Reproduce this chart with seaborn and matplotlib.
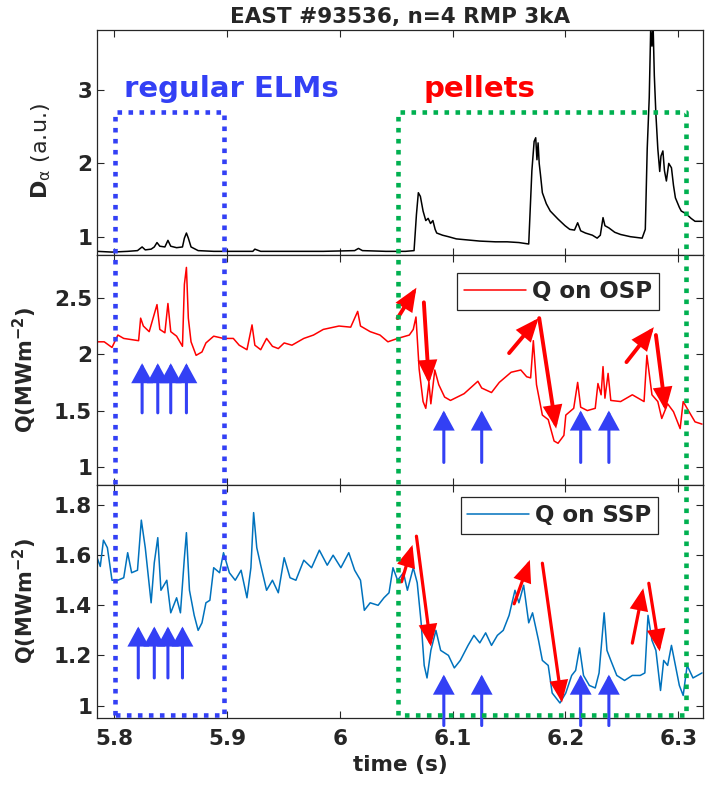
import matplotlib
matplotlib.use("Agg")
import matplotlib.pyplot as plt
import seaborn as sns
from matplotlib.lines import Line2D
from matplotlib.ticker import FuncFormatter

# ---------------- data ----------------
da_t = [5.7846, 5.7978, 5.8117, 5.8204, 5.8245, 5.8273, 5.8325, 5.8353, 5.8377, 5.8402,
        5.8447, 5.8474, 5.8499, 5.8551, 5.8603, 5.8620, 5.8638, 5.8655, 5.8679, 5.8742,
        5.8880, 5.9054, 5.9227, 5.9245, 5.9297, 5.9505, 5.9852, 6.0130, 6.0164, 6.0199,
        6.0407, 6.0581, 6.0657, 6.0678, 6.0695, 6.0713, 6.0737, 6.0761, 6.0782, 6.0803,
        6.0824, 6.0844, 6.0858, 6.0910, 6.0962, 6.1032, 6.1101, 6.1171, 6.1240, 6.1379,
        6.1483, 6.1587, 6.1674, 6.1702, 6.1722, 6.1736, 6.1747, 6.1757, 6.1767, 6.1778,
        6.1795, 6.1830, 6.1865, 6.1934, 6.1996, 6.2038, 6.2080, 6.2108, 6.2135, 6.2177,
        6.2239, 6.2281, 6.2309, 6.2333, 6.2350, 6.2385, 6.2437, 6.2489, 6.2576, 6.2680,
        6.2708, 6.2725, 6.2743, 6.2756, 6.2767, 6.2777, 6.2788, 6.2802, 6.2819, 6.2836,
        6.2847, 6.2864, 6.2878, 6.2895, 6.2916, 6.2940, 6.2958, 6.2975, 6.3010, 6.3027,
        6.3062, 6.3079, 6.3114, 6.3149, 6.3211]
da_v = [0.80, 0.79, 0.80, 0.81, 0.86, 0.82, 0.83, 0.86, 0.92, 0.87,
        0.86, 0.95, 0.87, 0.85, 0.86, 0.98, 1.05, 0.98, 0.86, 0.81,
        0.80, 0.80, 0.80, 0.83, 0.80, 0.80, 0.80, 0.81, 0.84, 0.81,
        0.80, 0.80, 0.81, 1.30, 1.60, 1.55, 1.35, 1.22, 1.25, 1.18,
        1.22, 1.10, 1.05, 1.02, 1.00, 0.97, 0.96, 0.95, 0.94, 0.93,
        0.93, 0.92, 0.90, 1.90, 2.30, 2.35, 2.05, 2.28, 2.00, 1.85,
        1.60, 1.45, 1.35, 1.24, 1.15, 1.10, 1.09, 1.19, 1.08, 1.05,
        1.02, 0.98, 1.02, 1.26, 1.15, 1.12, 1.06, 1.03, 1.00, 0.98,
        1.10, 2.20, 2.90, 3.85, 3.60, 3.90, 3.20, 2.67, 2.20, 1.89,
        2.10, 2.17, 1.90, 1.76, 2.00, 1.94, 1.70, 1.53, 1.40, 1.35,
        1.32, 1.30, 1.25, 1.21, 1.21]

osp_t = [5.7846, 5.7909, 5.7978, 5.8030, 5.8082, 5.8214, 5.8232, 5.8256, 5.8308, 5.8377,
         5.8402, 5.8447, 5.8474, 5.8499, 5.8551, 5.8603, 5.8620, 5.8638, 5.8655, 5.8679,
         5.8724, 5.8776, 5.8811, 5.8880, 5.8967, 5.9054, 5.9106, 5.9175, 5.9220, 5.9245,
         5.9297, 5.9349, 5.9401, 5.9453, 5.9505, 5.9574, 5.9679, 5.9765, 5.9852, 5.9991,
         6.0095, 6.0157, 6.0182, 6.0268, 6.0355, 6.0425, 6.0511, 6.0615, 6.0650, 6.0674,
         6.0702, 6.0737, 6.0761, 6.0789, 6.0806, 6.0841, 6.0876, 6.0928, 6.0980, 6.1101,
         6.1223, 6.1257, 6.1344, 6.1413, 6.1518, 6.1604, 6.1656, 6.1691, 6.1715, 6.1743,
         6.1795, 6.1847, 6.1899, 6.1934, 6.1986, 6.2003, 6.2073, 6.2108, 6.2135, 6.2194,
         6.2264, 6.2288, 6.2316, 6.2333, 6.2350, 6.2378, 6.2402, 6.2489, 6.2593, 6.2697,
         6.2722, 6.2767, 6.2819, 6.2854, 6.2906, 6.2958, 6.3017, 6.3044, 6.3096, 6.3149,
         6.3211]
osp_q = [2.11, 2.11, 2.06, 2.17, 2.14, 2.12, 2.32, 2.25, 2.20, 2.44,
         2.22, 2.19, 2.45, 2.20, 2.16, 2.07, 2.62, 2.77, 2.32, 2.11,
         1.99, 2.02, 2.10, 2.16, 2.14, 2.14, 2.08, 2.04, 2.26, 2.08,
         2.04, 2.14, 2.07, 2.05, 2.10, 2.08, 2.14, 2.17, 2.22, 2.25,
         2.24, 2.38, 2.25, 2.20, 2.17, 2.11, 2.14, 2.17, 2.22, 2.33,
         1.87, 1.58, 1.52, 1.75, 1.56, 1.86, 1.73, 1.62, 1.59, 1.65,
         1.76, 1.70, 1.66, 1.75, 1.84, 1.86, 1.80, 1.79, 2.12, 1.73,
         1.46, 1.42, 1.23, 1.21, 1.28, 1.46, 1.52, 1.75, 1.53, 1.50,
         1.52, 1.74, 1.64, 1.89, 1.61, 1.83, 1.59, 1.58, 1.64, 1.58,
         1.99, 1.64, 1.58, 1.43, 1.56, 1.49, 1.34, 1.58, 1.49, 1.40,
         1.38]

ssp_t = [5.7846, 5.7874, 5.7902, 5.7937, 5.7978, 5.8030, 5.8082, 5.8117, 5.8152, 5.8204,
         5.8238, 5.8273, 5.8325, 5.8353, 5.8384, 5.8412, 5.8464, 5.8499, 5.8551, 5.8585,
         5.8620, 5.8638, 5.8665, 5.8707, 5.8742, 5.8776, 5.8811, 5.8846, 5.8880, 5.8932,
         5.8967, 5.9019, 5.9071, 5.9123, 5.9175, 5.9210, 5.9234, 5.9262, 5.9297, 5.9349,
         5.9401, 5.9453, 5.9505, 5.9557, 5.9609, 5.9679, 5.9748, 5.9817, 5.9887, 5.9939,
         6.0008, 6.0078, 6.0130, 6.0182, 6.0216, 6.0268, 6.0338, 6.0390, 6.0435, 6.0470,
         6.0511, 6.0563, 6.0598, 6.0650, 6.0685, 6.0720, 6.0747, 6.0772, 6.0806, 6.0851,
         6.0893, 6.0962, 6.1014, 6.1067, 6.1136, 6.1188, 6.1240, 6.1292, 6.1344, 6.1396,
         6.1448, 6.1500, 6.1552, 6.1587, 6.1629, 6.1674, 6.1708, 6.1761, 6.1795, 6.1847,
         6.1882, 6.1951, 6.2003, 6.2055, 6.2090, 6.2125, 6.2160, 6.2212, 6.2264, 6.2298,
         6.2343, 6.2368, 6.2402, 6.2455, 6.2524, 6.2593, 6.2663, 6.2704, 6.2732, 6.2767,
         6.2802, 6.2843, 6.2871, 6.2906, 6.2940, 6.2975, 6.3010, 6.3044, 6.3079, 6.3131,
         6.3211]
ssp_q = [1.59, 1.555, 1.66, 1.63, 1.50, 1.50, 1.51, 1.61, 1.53, 1.54,
         1.74, 1.63, 1.41, 1.57, 1.67, 1.46, 1.50, 1.37, 1.43, 1.37,
         1.59, 1.69, 1.46, 1.36, 1.30, 1.33, 1.41, 1.42, 1.55, 1.53,
         1.61, 1.53, 1.50, 1.54, 1.43, 1.55, 1.77, 1.63, 1.56, 1.46,
         1.50, 1.45, 1.59, 1.51, 1.50, 1.58, 1.55, 1.62, 1.56, 1.60,
         1.55, 1.61, 1.54, 1.50, 1.38, 1.41, 1.40, 1.43, 1.45, 1.55,
         1.50, 1.53, 1.46, 1.55, 1.49, 1.33, 1.16, 1.11, 1.22, 1.30,
         1.22, 1.20, 1.15, 1.18, 1.24, 1.28, 1.25, 1.29, 1.24, 1.28,
         1.30, 1.36, 1.46, 1.41, 1.48, 1.33, 1.37, 1.26, 1.18, 1.16,
         1.05, 1.01, 1.05, 1.12, 1.14, 1.23, 1.12, 1.08, 1.07, 1.13,
         1.37, 1.22, 1.18, 1.12, 1.10, 1.12, 1.12, 1.13, 1.36, 1.26,
         1.22, 1.06, 1.18, 1.16, 1.24, 1.16, 1.08, 1.04, 1.16, 1.11,
         1.13]

# annotation marks (time, value)
osp_blue_t = [5.8245, 5.8384, 5.8499, 5.8638, 6.0921, 6.1257, 6.2135, 6.2385]
osp_blue_y0 = [1.48, 1.48, 1.48, 1.48, 1.04, 1.04, 1.04, 1.04]
osp_blue_y1 = [1.92, 1.92, 1.92, 1.92, 1.50, 1.50, 1.50, 1.50]
osp_red_t0 = [6.0511, 6.0744, 6.1500, 6.1767, 6.2541, 6.2802]
osp_red_q0 = [2.32, 2.46, 2.01, 2.32, 1.93, 2.17]
osp_red_t1 = [6.0678, 6.0789, 6.1761, 6.1917, 6.2784, 6.2888]
osp_red_q1 = [2.59, 1.74, 2.32, 1.34, 2.24, 1.50]

ssp_blue_t = [5.8211, 5.8353, 5.8474, 5.8603, 6.0921, 6.1257, 6.2135, 6.2385]
ssp_blue_y0 = [1.11, 1.11, 1.11, 1.11, 0.92, 0.92, 0.92, 0.92]
ssp_blue_y1 = [1.315, 1.315, 1.315, 1.315, 1.123, 1.123, 1.123, 1.123]
ssp_red_t0 = [6.0546, 6.0678, 6.1545, 6.1795, 6.2593, 6.2739]
ssp_red_q0 = [1.494, 1.676, 1.406, 1.568, 1.249, 1.488]
ssp_red_t1 = [6.0643, 6.0806, 6.1684, 6.1969, 6.2690, 6.2836]
ssp_red_q1 = [1.641, 1.236, 1.581, 1.012, 1.468, 1.216]

box_t0 = [5.8006, 6.0511]
box_t1 = [5.8974, 6.3069]
box_top_da = 2.695      # in D_alpha units (top panel)
box_bottom_q = 0.963    # in SSP units (bottom panel)

BLUE = '#3340f5'
GREEN = '#00b050'
RED = '#ff0000'
LINEBLUE = '#0072bd'

# ---------------- style ----------------
sns.set_theme(style="ticks")
plt.rcParams['font.family'] = ['DejaVu Sans']
plt.rcParams.update({
    'font.weight': 'bold',
    'axes.labelweight': 'bold',
    'axes.titleweight': 'bold',
    'xtick.direction': 'in',
    'ytick.direction': 'in',
    'xtick.top': True,
    'ytick.right': True,
    'axes.edgecolor': '#262626',
    'axes.linewidth': 0.9,
    'xtick.color': '#262626',
    'ytick.color': '#262626',
    'xtick.major.size': 5,
    'ytick.major.size': 5,
    'xtick.labelsize': 15.5,
    'ytick.labelsize': 15.5,
    'mathtext.default': 'regular',
})

fig = plt.figure(figsize=(7.05, 7.9), dpi=100)
L, W = 0.1376, 0.8596
ax1 = fig.add_axes([L, 0.6772, W, 0.2848])
ax2 = fig.add_axes([L, 0.3861, W, 0.2911], sharex=ax1)
ax3 = fig.add_axes([L, 0.0911, W, 0.2949], sharex=ax1)

sns.lineplot(x=da_t, y=da_v, ax=ax1, color='black', lw=1.1, sort=False, estimator=None)
sns.lineplot(x=osp_t, y=osp_q, ax=ax2, color=RED, lw=1.1, sort=False, estimator=None,
             label='Q on OSP')
sns.lineplot(x=ssp_t, y=ssp_q, ax=ax3, color=LINEBLUE, lw=1.1, sort=False, estimator=None,
             label='Q on SSP')

ax1.set_xlim(5.7845, 6.322)
ax1.set_ylim(0.75, 3.82)
ax2.set_ylim(0.84, 2.88)
ax3.set_ylim(0.95, 1.88)
ax1.set_yticks([1, 2, 3])
ax2.set_yticks([1, 1.5, 2, 2.5])
ax3.set_yticks([1, 1.2, 1.4, 1.6, 1.8])
ax3.set_xticks([5.8, 5.9, 6.0, 6.1, 6.2, 6.3])
fmt = FuncFormatter(lambda v, p: f"{v:g}")
for ax in (ax1, ax2, ax3):
    ax.yaxis.set_major_formatter(fmt)
    ax.xaxis.set_major_formatter(fmt)
    ax.tick_params(which='both', top=True, right=True, width=0.8)
ax1.tick_params(labelbottom=False)
ax2.tick_params(labelbottom=False)
ax3.tick_params(axis='x', pad=8)

ax1.set_ylabel(r'$\mathbf{D}_{\alpha}$ (a.u.)', fontsize=16, fontweight='normal')
ax2.set_ylabel(r'Q(MWm$^{\mathbf{-2}}$)', fontsize=15)
ax3.set_ylabel(r'Q(MWm$^{\mathbf{-2}}$)', fontsize=15)
ax1.yaxis.set_label_coords(-0.072, 0.46)
ax2.yaxis.set_label_coords(-0.095, 0.5)
ax3.yaxis.set_label_coords(-0.095, 0.5)
ax1.set_xlabel('')
ax2.set_xlabel('')
ax3.set_xlabel('time (s)', fontsize=15.5, labelpad=4)
ax1.set_title('EAST #93536, n=4 RMP 3kA', fontsize=15.5, pad=5)

for ax, anchor in ((ax2, (0.927, 0.922)), (ax3, (0.926, 0.948))):
    leg = ax.legend(loc='upper right', bbox_to_anchor=anchor, fontsize=16.5,
                    frameon=True, fancybox=False, framealpha=1, edgecolor='#262626',
                    handlelength=2.7, handletextpad=0.25, borderpad=0.3, borderaxespad=0)
    leg.get_frame().set_linewidth(0.9)

ax1.text(5.808, 2.91, 'regular ELMs', color=BLUE, fontsize=21, fontweight='bold',
         ha='left', va='baseline')
ax1.text(6.0737, 2.91, 'pellets', color=RED, fontsize=21, fontweight='bold',
         ha='left', va='baseline')


def arrow(ax, x0, y0, x1, y1, color, lw, hl, hw):
    ax.annotate('', xy=(x1, y1), xytext=(x0, y0), annotation_clip=False,
                arrowprops=dict(arrowstyle=f'-|>,head_length={hl},head_width={hw}',
                                color=color, lw=lw, shrinkA=0, shrinkB=0,
                                mutation_scale=20, joinstyle='miter'),
                zorder=6)


for t, a, b in zip(osp_blue_t, osp_blue_y0, osp_blue_y1):
    arrow(ax2, t, a, t, b, BLUE, 2.2, 0.55, 0.3)
for t, a, b in zip(ssp_blue_t, ssp_blue_y0, ssp_blue_y1):
    arrow(ax3, t, a, t, b, BLUE, 2.2, 0.55, 0.3)
for a, b, c, d in zip(osp_red_t0, osp_red_q0, osp_red_t1, osp_red_q1):
    arrow(ax2, a, b, c, d, RED, 2.8, 0.6, 0.25)
for a, b, c, d in zip(ssp_red_t0, ssp_red_q0, ssp_red_t1, ssp_red_q1):
    arrow(ax3, a, b, c, d, RED, 2.3, 0.6, 0.25)

# dotted boxes spanning the three panels
inv = fig.transFigure.inverted()
for t0, t1, col in zip(box_t0, box_t1, [BLUE, GREEN]):
    p_tl = inv.transform(ax1.transData.transform((t0, box_top_da)))
    p_tr = inv.transform(ax1.transData.transform((t1, box_top_da)))
    p_bl = inv.transform(ax3.transData.transform((t0, box_bottom_q)))
    p_br = inv.transform(ax3.transData.transform((t1, box_bottom_q)))
    xs = [p_bl[0], p_tl[0], p_tr[0], p_br[0], p_bl[0]]
    ys = [p_bl[1], p_tl[1], p_tr[1], p_br[1], p_bl[1]]
    ln = Line2D(xs, ys, transform=fig.transFigure, color=col, lw=3.3,
                linestyle=(0, (1, 1.4)), dash_capstyle='butt', zorder=5)
    fig.add_artist(ln)

fig.savefig('out.png', dpi=100)
